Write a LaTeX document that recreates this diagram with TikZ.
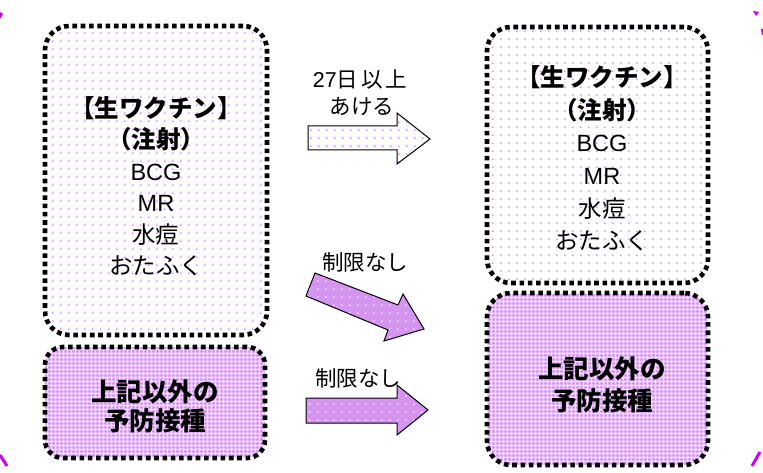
\documentclass[tikz,border=0pt]{standalone}
\usepackage{fontspec}
\newfontfamily\jp{Noto Sans CJK JP}
\newfontfamily\lat{Liberation Sans}
\usetikzlibrary{patterns.meta}
\definecolor{dotc}{HTML}{C870F5}
\definecolor{densec}{HTML}{D07EF5}
\definecolor{densebg}{HTML}{F3DDFA}
\definecolor{arrowfill}{HTML}{D494F0}
\definecolor{mag}{HTML}{CC00F0}
\tikzdeclarepattern{name=sparsedots, type=uncolored,
  bounding box={(0pt,0pt) and (8.3pt,8.3pt)}, tile size={(8.3pt,8.3pt)},
  code={\pgfpathcircle{\pgfpoint{4.15pt}{4.15pt}}{0.95pt}\pgfusepath{fill}}}
\tikzdeclarepattern{name=densedots, type=uncolored,
  bounding box={(0pt,0pt) and (4pt,4pt)}, tile size={(4pt,4pt)},
  code={\pgfpathrectangle{\pgfpoint{0.6pt}{0.6pt}}{\pgfpoint{2.8pt}{2.8pt}}\pgfusepath{fill}}}
\newcommand\headfont{\bfseries\fontsize{24.5}{24.5}\selectfont}
\newcommand\bigfont{\bfseries\fontsize{25.5}{25.5}\selectfont}
\newcommand\latfont{\lat\fontsize{23.5}{23.5}\selectfont}
\tikzset{
  dotborder/.style={draw=black, line width=4.6pt, dash pattern=on 4.6pt off 3.7pt, rounded corners=#1, inner sep=0pt, shape=rectangle},
  lightbox/.style={dotborder=#1, preaction={fill=white}, pattern=sparsedots, pattern color=dotc},
  densebox/.style={dotborder=#1, preaction={fill=densebg}, pattern=densedots, pattern color=densec},
  lightarrow/.style={draw=black, line width=1pt, line join=miter, preaction={fill=white}, pattern=sparsedots, pattern color=dotc},
  densearrow/.style={draw=black, line width=1pt, line join=miter, preaction={fill=arrowfill}, pattern=sparsedots, pattern color=white},
  boxtext/.style={align=center, inner sep=0pt, font={\jp\fontsize{23.5}{#1}\selectfont}},
  labeltext/.style={inner sep=0pt, font={\jp\fontsize{21.5}{24}\selectfont}},
  fragment/.style={mag, line width=3pt}
}
\begin{document}
\begin{tikzpicture}[x=1pt, y=-1pt]
\useasboundingbox (0,0) rectangle (763,473);
% boxes
\node[lightbox=24pt, minimum width=222pt, minimum height=309pt] (b1) at (156,180.5) {};
\node[densebox=18pt, minimum width=220pt, minimum height=111pt] (b2) at (155,402.5) {};
\node[lightbox=24pt, minimum width=221pt, minimum height=256pt] (b3) at (597.5,155) {};
\node[densebox=24pt, minimum width=221pt, minimum height=172pt] (b4) at (597.5,379) {};
% box texts
\node[boxtext=31.5pt] (t1) at (156,186.5) {{\headfont 【生ワクチン】}\\{\headfont （注射）}\\{\latfont BCG}\\{\latfont MR}\\水痘\\おたふく};
\node[boxtext=29pt] (t2) at (155,406) {{\bigfont 上記以外の}\\{\bigfont 予防接種}};
\node[boxtext=32.6pt] (t3) at (602,158.5) {{\headfont 【生ワクチン】}\\{\headfont （注射）}\\{\latfont BCG}\\{\latfont MR}\\水痘\\おたふく};
\node[boxtext=32pt] (t4) at (602,384.5) {{\bigfont 上記以外の}\\{\bigfont 予防接種}};
% block arrows
\draw[lightarrow] (308,126) -- (397,126) -- (397,113) -- (430,139) -- (397,164) -- (397,150) -- (308,150) -- cycle;
\draw[densearrow] (315,273) -- (398,305) -- (403,294) -- (424,329) -- (384,341) -- (388,330) -- (306,296) -- cycle;
\draw[densearrow] (306,398) -- (397,398) -- (397,385) -- (428,410) -- (397,435) -- (397,423) -- (306,423) -- cycle;
% arrow labels
\node[labeltext] (l1) at (360,80) {{\lat 27}日\hspace{3pt}以\hspace{3pt}上};
\node[labeltext] (l2) at (362,107) {あける};
\node[labeltext] (l3) at (365,262) {制限なし};
\node[labeltext] (l4) at (358,378) {制限なし};
% magenta fragments at the corners
\fill[mag] (0,12) -- (3,14) -- (1,18) -- (0,18) -- cycle;
\fill[mag] (753,11) -- (759,12) -- (756,16) -- cycle;
\fill[mag] (761,29) -- (763,29) -- (763,35) -- (762,35) -- cycle;
\draw[fragment] (0,455) -- (7,466);
\draw[fragment] (760,452) -- (752,466);
\end{tikzpicture}
\end{document}
